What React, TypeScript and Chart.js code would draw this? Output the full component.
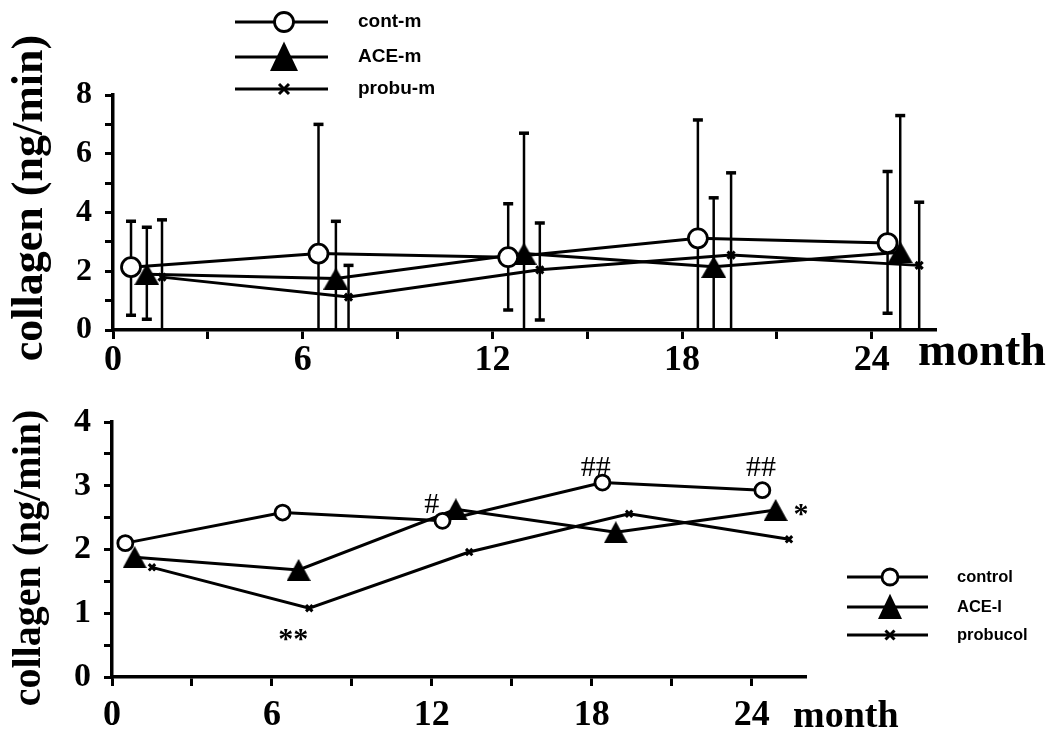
import React, { useEffect, useRef } from 'react';
import { Chart, registerables } from 'chart.js';
Chart.register(...registerables);

const SERIF = '"Liberation Serif", "Times New Roman", serif';
const SANS = '"Liberation Sans", Arial, sans-serif';

// ---------- top panel (mean ± SD) ----------
const topLegendLabels = ['cont-m', 'ACE-m', 'probu-m'];
const topMonthsControl = [0.57, 6.5, 12.5, 18.5, 24.5];
const topMonthsACE = [1.07, 7.05, 13.0, 19.0, 24.9];
const topMonthsProbu = [1.55, 7.45, 13.5, 19.55, 25.5];
const topControl = [2.14, 2.6, 2.48, 3.12, 2.96];
const topControlHi = [3.7, 7.0, 4.3, 7.15, 5.4];
const topControlLo = [0.5, 0, 0.68, 0, 0.57];
const topACE = [1.9, 1.75, 2.6, 2.15, 2.65];
const topACEHi = [3.5, 3.7, 6.7, 4.5, 7.3];
const topACELo = [0.37, 0, 0, 0, 0];
const topProbu = [1.8, 1.12, 2.05, 2.55, 2.2];
const topProbuHi = [3.75, 2.2, 3.64, 5.35, 4.35];
const topProbuLo = [0, 0, 0.34, 0, 0];
const topYTickLabels = [0, 2, 4, 6, 8];
const xTickLabels = [0, 6, 12, 18, 24];

// ---------- bottom panel (means) ----------
const botLegendLabels = ['control', 'ACE-I', 'probucol'];
const botMonthsControl = [0.5, 6.4, 12.4, 18.4, 24.4];
const botMonthsACE = [0.85, 7.0, 12.9, 18.9, 24.9];
const botMonthsProbu = [1.5, 7.4, 13.4, 19.4, 25.4];
const botControl = [2.1, 2.58, 2.45, 3.05, 2.93];
const botACE = [1.88, 1.68, 2.63, 2.27, 2.62];
const botProbu = [1.72, 1.08, 1.96, 2.56, 2.16];
const botYTickLabels = [0, 1, 2, 3, 4];
const botAnnoText = ['**', '#', '##', '##', '*'];
const botAnnoX = [6.8, 12.0, 18.15, 24.35, 25.85];
const botAnnoY = [0.57, 2.7, 3.28, 3.28, 2.53];

const AXIS_TITLE = 'collagen (ng/min)';
const X_TITLE = 'month';

function pts(xs: number[], ys: number[]) {
  return xs.map((x, i) => ({ x, y: ys[i] }));
}

function makeTriangle(w: number, h: number) {
  const c = document.createElement('canvas');
  c.width = w;
  c.height = h;
  const g = c.getContext('2d')!;
  g.fillStyle = '#000';
  g.beginPath();
  g.moveTo(w / 2, 0);
  g.lineTo(w, h);
  g.lineTo(0, h);
  g.closePath();
  g.fill();
  return c;
}

function drawMarker(ctx: CanvasRenderingContext2D, kind: string, x: number, y: number, s: number) {
  ctx.save();
  ctx.strokeStyle = '#000';
  ctx.fillStyle = '#000';
  if (kind === 'circle') {
    ctx.lineWidth = 2.8;
    ctx.fillStyle = '#fff';
    ctx.beginPath();
    ctx.arc(x, y, s, 0, Math.PI * 2);
    ctx.fill();
    ctx.stroke();
  } else if (kind === 'triangle') {
    ctx.beginPath();
    ctx.moveTo(x, y - s * 0.55);
    ctx.lineTo(x + s * 0.5, y + s * 0.5);
    ctx.lineTo(x - s * 0.5, y + s * 0.5);
    ctx.closePath();
    ctx.fill();
  } else {
    ctx.lineWidth = 3;
    ctx.beginPath();
    ctx.moveTo(x - s, y - s);
    ctx.lineTo(x + s, y + s);
    ctx.moveTo(x + s, y - s);
    ctx.lineTo(x - s, y + s);
    ctx.stroke();
  }
  ctx.restore();
}

function legendPlugin(id: string, labels: string[], rows: number[], x0: number, x1: number, xm: number, xt: number, font: string, sizes: number[]) {
  const kinds = ['circle', 'triangle', 'cross'];
  return {
    id,
    afterDraw(chart: any) {
      const ctx: CanvasRenderingContext2D = chart.ctx;
      ctx.save();
      labels.forEach((lab, i) => {
        const y = rows[i];
        ctx.strokeStyle = '#000';
        ctx.lineWidth = 3;
        ctx.beginPath();
        ctx.moveTo(x0, y);
        ctx.lineTo(x1, y);
        ctx.stroke();
        drawMarker(ctx, kinds[i], xm, y, sizes[i]);
        ctx.fillStyle = '#000';
        ctx.font = font;
        ctx.textAlign = 'left';
        ctx.textBaseline = 'middle';
        ctx.fillText(lab, xt, y);
      });
      ctx.restore();
    },
  };
}

function titlesPlugin(id: string, yx: number, yy: number, yFont: string, mx: number, my: number, mFont: string) {
  return {
    id,
    afterDraw(chart: any) {
      const ctx: CanvasRenderingContext2D = chart.ctx;
      ctx.save();
      ctx.fillStyle = '#000';
      ctx.font = yFont;
      ctx.translate(yx, yy);
      ctx.rotate(-Math.PI / 2);
      ctx.textAlign = 'center';
      ctx.textBaseline = 'middle';
      ctx.fillText(AXIS_TITLE, 0, 0);
      ctx.restore();
      ctx.save();
      ctx.fillStyle = '#000';
      ctx.font = mFont;
      ctx.textAlign = 'left';
      ctx.textBaseline = 'alphabetic';
      ctx.fillText(X_TITLE, mx, my);
      ctx.restore();
    },
  };
}

const errorSets = [
  { xs: topMonthsControl, hi: topControlHi, lo: topControlLo },
  { xs: topMonthsACE, hi: topACEHi, lo: topACELo },
  { xs: topMonthsProbu, hi: topProbuHi, lo: topProbuLo },
];

const errorBarPlugin = {
  id: 'errorBars',
  beforeDatasetsDraw(chart: any) {
    const ctx: CanvasRenderingContext2D = chart.ctx;
    const sx = chart.scales.x;
    const sy = chart.scales.y;
    ctx.save();
    ctx.strokeStyle = '#000';
    errorSets.forEach((set) => {
      set.xs.forEach((m, i) => {
        const px = sx.getPixelForValue(m);
        const ph = sy.getPixelForValue(set.hi[i]);
        const pl = sy.getPixelForValue(set.lo[i]);
        ctx.lineWidth = 2.5;
        ctx.beginPath();
        ctx.moveTo(px, ph);
        ctx.lineTo(px, pl);
        ctx.stroke();
        ctx.lineWidth = 3.5;
        ctx.beginPath();
        ctx.moveTo(px - 5, ph);
        ctx.lineTo(px + 5, ph);
        if (set.lo[i] > 0) {
          ctx.moveTo(px - 5, pl);
          ctx.lineTo(px + 5, pl);
        }
        ctx.stroke();
      });
    });
    ctx.restore();
  },
};

const annoPlugin = {
  id: 'annos',
  afterDatasetsDraw(chart: any) {
    const ctx: CanvasRenderingContext2D = chart.ctx;
    const sx = chart.scales.x;
    const sy = chart.scales.y;
    ctx.save();
    ctx.fillStyle = '#000';
    ctx.textAlign = 'center';
    ctx.textBaseline = 'middle';
    botAnnoText.forEach((t, i) => {
      ctx.font = t.includes('#') ? `30px ${SERIF}` : `bold 30px ${SERIF}`;
      ctx.fillText(t, sx.getPixelForValue(botAnnoX[i]), sy.getPixelForValue(botAnnoY[i]));
    });
    ctx.restore();
  },
};

function scales(yMax: number, yStep: number, yLabels: number[], yFont: number, yWidth: number, xHeight: number, xPad: number) {
  return {
    x: {
      type: 'linear',
      min: 0,
      max: 26,
      ticks: {
        stepSize: 3,
        includeBounds: false,
        autoSkip: false,
        maxRotation: 0,
        color: '#000',
        padding: xPad,
        font: { family: SERIF, size: 36, weight: 'bold' },
        callback: (v: number) => (xTickLabels.includes(v) ? String(v) : ''),
      },
      grid: { drawOnChartArea: false, drawTicks: true, tickLength: 9, color: '#000', lineWidth: 3 },
      border: { display: true, color: '#000', width: 3.5 },
      afterFit: (s: any) => {
        s.height = xHeight;
        s.paddingLeft = 0;
        s.paddingRight = 0;
      },
    },
    y: {
      type: 'linear',
      min: 0,
      max: yMax,
      ticks: {
        stepSize: yStep,
        autoSkip: false,
        color: '#000',
        padding: 13,
        font: { family: SERIF, size: yFont, weight: 'bold' },
        callback: (v: number) => (yLabels.includes(v) ? String(v) : ''),
      },
      grid: { drawOnChartArea: false, drawTicks: true, tickLength: 8, color: '#000', lineWidth: 3 },
      border: { display: true, color: '#000', width: 3.5 },
      afterFit: (s: any) => {
        s.width = yWidth;
        s.paddingTop = 0;
        s.paddingBottom = 0;
      },
    },
  };
}

function lineDs(label: string, data: any[], style: any, radius: number, bw: number) {
  return {
    label,
    data,
    borderColor: '#000',
    borderWidth: 3,
    pointStyle: style,
    pointRadius: radius,
    pointHoverRadius: radius,
    pointBorderWidth: bw,
    pointBorderColor: '#000',
    pointBackgroundColor: style === 'circle' ? '#fff' : '#000',
    tension: 0,
    fill: false,
  };
}

export default function App() {
  const topRef = useRef<HTMLCanvasElement>(null);
  const botRef = useRef<HTMLCanvasElement>(null);

  useEffect(() => {
    const triTop = makeTriangle(25, 22);
    const triBot = makeTriangle(24, 22);

    const top = new Chart(topRef.current!, {
      type: 'line',
      data: {
        datasets: [
          lineDs(topLegendLabels[0], pts(topMonthsControl, topControl), 'circle', 9.5, 2.8),
          lineDs(topLegendLabels[1], pts(topMonthsACE, topACE), triTop, 12, 1),
          lineDs(topLegendLabels[2], pts(topMonthsProbu, topProbu), 'crossRot', 5, 3),
        ],
      } as any,
      options: {
        responsive: false,
        animation: false,
        devicePixelRatio: 1,
        layout: { padding: { left: 0, top: 95, right: 115, bottom: 30 } },
        plugins: { legend: { display: false }, tooltip: { enabled: false }, title: { display: false } },
        scales: scales(8, 1, topYTickLabels, 32, 113, 40, 0) as any,
      },
      plugins: [
        errorBarPlugin,
        legendPlugin('legTop', topLegendLabels, [22, 57, 89], 235, 328, 284, 358, `bold 19px ${SANS}`, [9.5, 28, 5]),
        titlesPlugin('titTop', 31, 198, `bold 44px ${SERIF}`, 918, 365, `bold 46px ${SERIF}`),
      ],
    });

    const bot = new Chart(botRef.current!, {
      type: 'line',
      data: {
        datasets: [
          lineDs(botLegendLabels[0], pts(botMonthsControl, botControl), 'circle', 7.5, 2.8),
          lineDs(botLegendLabels[1], pts(botMonthsACE, botACE), triBot, 12, 1),
          lineDs(botLegendLabels[2], pts(botMonthsProbu, botProbu), 'crossRot', 4.5, 3),
        ],
      } as any,
      options: {
        responsive: false,
        animation: false,
        devicePixelRatio: 1,
        layout: { padding: { left: 0, top: 52, right: 245, bottom: 0 } },
        plugins: { legend: { display: false }, tooltip: { enabled: false }, title: { display: false } },
        scales: scales(4, 0.5, botYTickLabels, 34, 112, 60, 8) as any,
      },
      plugins: [
        annoPlugin,
        legendPlugin('legBot', botLegendLabels, [207, 237, 265], 847, 928, 890, 957, `bold 16.5px ${SANS}`, [8, 24, 4.5]),
        titlesPlugin('titBot', 30, 188, `bold 40px ${SERIF}`, 793, 357, `bold 38px ${SERIF}`),
      ],
    });

    return () => {
      top.destroy();
      bot.destroy();
    };
  }, []);

  return (
    <div style={{ position: 'absolute', left: 0, top: 0, width: 1050, height: 737, background: '#fff', overflow: 'hidden' }}>
      <canvas ref={topRef} width={1050} height={400} style={{ position: 'absolute', left: 0, top: 0, width: 1050, height: 400 }} />
      <canvas ref={botRef} width={1050} height={367} style={{ position: 'absolute', left: 0, top: 370, width: 1050, height: 367 }} />
    </div>
  );
}
